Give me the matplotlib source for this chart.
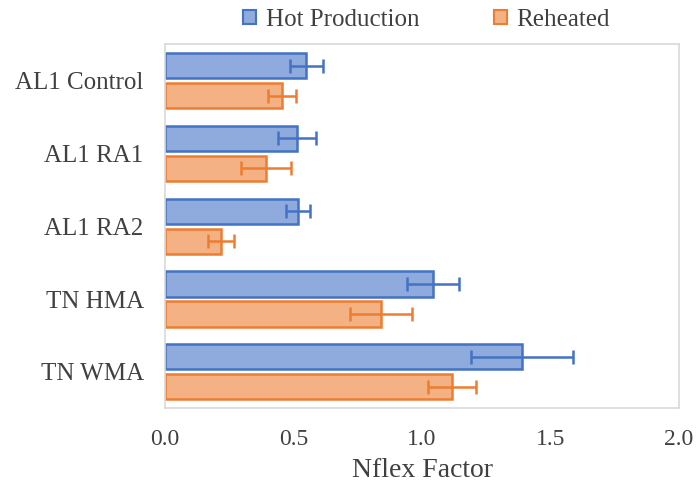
import numpy as np
import matplotlib
matplotlib.use("Agg")
import matplotlib.pyplot as plt
from matplotlib.patches import Patch

# data
categories = ["AL1 Control", "AL1 RA1", "AL1 RA2", "TN HMA", "TN WMA"]
hot_prod = [0.55, 0.515, 0.517, 1.043, 1.389]
hot_err = [0.065, 0.074, 0.045, 0.10, 0.20]
reheated = [0.455, 0.393, 0.218, 0.84, 1.117]
reheat_err = [0.055, 0.097, 0.05, 0.12, 0.095]

COLORS = {
    'hp_fill': '#8FAADC',
    'hp_edge': '#4472C4',
    'rh_fill': '#F4B183',
    'rh_edge': '#ED7D31',
    'spine': '#D9D9D9',
    'text': '#404040',
}

plt.rcParams['font.family'] = ['Liberation Serif', 'DejaVu Serif']

fig = plt.figure(figsize=(6.97, 4.86), dpi=100)
ax = fig.add_axes([0.237, 0.160, 0.737, 0.749])

y = np.arange(len(categories))
h = 0.345
off = 0.206

ax.barh(y - off, hot_prod, height=h, color=COLORS['hp_fill'],
        edgecolor=COLORS['hp_edge'], linewidth=1.8)
ax.barh(y + off, reheated, height=h, color=COLORS['rh_fill'],
        edgecolor=COLORS['rh_edge'], linewidth=1.8)
ax.errorbar(hot_prod, y - off, xerr=hot_err, fmt='none', ecolor=COLORS['hp_edge'],
            elinewidth=1.8, capsize=5, capthick=1.8)
ax.errorbar(reheated, y + off, xerr=reheat_err, fmt='none', ecolor=COLORS['rh_edge'],
            elinewidth=1.8, capsize=5, capthick=1.8)

ax.set_xlim(0, 2.0)
ax.set_ylim(len(categories) - 0.5, -0.5)
ax.set_xticks([0.0, 0.5, 1.0, 1.5, 2.0])
ax.set_xticklabels(["0.0", "0.5", "1.0", "1.5", "2.0"])
ax.set_yticks(y)
ax.set_yticklabels(categories)
ax.tick_params(axis='x', length=0, labelsize=17, colors=COLORS['text'], pad=15)
ax.tick_params(axis='y', length=0, labelsize=18, colors=COLORS['text'], pad=15.5)
for s in ax.spines.values():
    s.set_color(COLORS['spine'])
    s.set_linewidth(1.2)

ax.set_xlabel("Nflex Factor", fontsize=20, color=COLORS['text'], labelpad=6)

handles = [Patch(facecolor=COLORS['hp_fill'], edgecolor=COLORS['hp_edge'], linewidth=1.5, label="Hot Production"),
           Patch(facecolor=COLORS['rh_fill'], edgecolor=COLORS['rh_edge'], linewidth=1.5, label="Reheated")]
fig.legend(handles=handles, loc='upper center', bbox_to_anchor=(0.612, 1.028), ncol=2,
           frameon=False, prop={'family': ['Liberation Serif', 'DejaVu Serif'], 'size': 18},
           handlelength=0.5, handleheight=0.5,
           handletextpad=0.4, columnspacing=3.0, labelcolor=COLORS['text'])

fig.savefig("out.png", dpi=100)
